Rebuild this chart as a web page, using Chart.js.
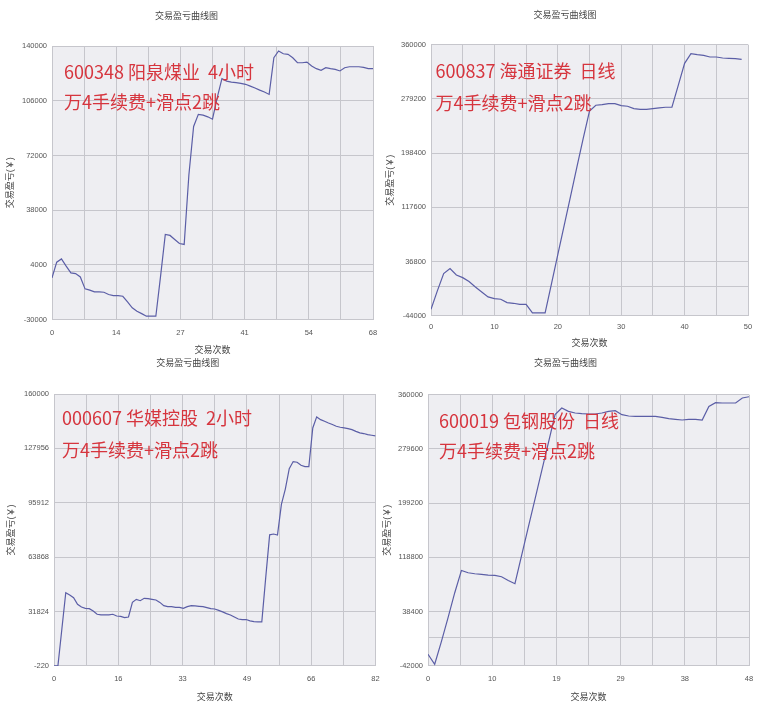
<!DOCTYPE html>
<html><head><meta charset="utf-8">
<script src="https://cdn.jsdelivr.net/npm/chart.js@4.4.0/dist/chart.umd.min.js"></script>
<style>
html,body{margin:0;padding:0;background:#fff;width:764px;height:718px;overflow:hidden;}
canvas{position:absolute;}
</style></head><body>
<canvas id="c1" width="382" height="357" style="left:0;top:0"></canvas>
<canvas id="c2" width="382" height="350" style="left:382px;top:0"></canvas>
<canvas id="c3" width="382" height="348" style="left:0;top:356px"></canvas>
<canvas id="c4" width="382" height="348" style="left:382px;top:356px"></canvas>
<script>
// ---- text ----
const chartTitle = '交易盈亏曲线图';
const xAxisTitle = '交易次数';
const yAxisTitle = '交易盈亏(￥)';

// ---- panel 1: 600348 阳泉煤业 4小时 ----
const note1 = ['600348 阳泉煤业  4小时', '万4手续费+滑点2跳'];
const xTicks1 = [0, 14, 27, 41, 54, 68];
const yTicks1 = [-30000, 4000, 38000, 72000, 106000, 140000];
const pnl1 = [-4100, 5700, 7700, 3200, -1000, -1400, -3500, -10900, -11700, -12800,
  -12800, -13000, -14400, -15100, -15100, -15500, -19000, -22700, -24800, -26300,
  -27900, -27900, -27900, -3000, 22900, 22300, 19800, 17300, 16700, 60000,
  90000, 97500, 97000, 96000, 94500, 107900, 119700, 118200, 117600, 117200,
  116800, 116200, 115100, 113900, 112600, 111400, 109900, 132700, 136900, 135200,
  134800, 132700, 129600, 129600, 130000, 127600, 125900, 124900, 126500, 125900,
  125500, 124500, 126500, 127100, 127100, 127100, 126700, 125900, 125900];

// ---- panel 2: 600837 海通证券 日线 ----
const note2 = ['600837 海通证券  日线', '万4手续费+滑点2跳'];
const xTicks2 = [0, 10, 20, 30, 40, 50];
const yTicks2 = [-44000, 36800, 117600, 198400, 279200, 360000];
const pnl2 = [-34100, -6800, 19000, 26400, 17000, 13000, 7100, -900, -8300, -15700,
  -18200, -19200, -24200, -25200, -26700, -26700, -39500, -39500, -39500, 3600,
  47200, 90300, 133500, 177100, 220200, 261000, 269800, 270800, 272300, 272300,
  269300, 268300, 264800, 263800, 263800, 264800, 265800, 266800, 266800, 299500,
  332200, 346600, 345100, 344100, 341700, 341700, 340200, 339700, 339200, 338200];

// ---- panel 3: 000607 华媒控股 2小时 ----
const note3 = ['000607 华媒控股  2小时', '万4手续费+滑点2跳'];
const xTicks3 = [0, 16, 33, 49, 66, 82];
const yTicks3 = [-220, 31824, 63868, 95912, 127956, 160000];
const pnl3 = [-220, -220, 21400, 42900, 41600, 40000, 36100, 34500, 33700, 33500,
  32100, 30200, 29800, 29800, 29800, 30200, 29200, 29000, 28200, 28600,
  37200, 39000, 38200, 39600, 39400, 39000, 38600, 37200, 35300, 34700,
  34700, 34300, 34300, 33700, 34700, 35300, 35100, 34900, 34700, 34100,
  33500, 33300, 32500, 31600, 30600, 29800, 28600, 27400, 27100, 27100,
  26300, 25900, 25700, 25700, 51800, 77000, 77500, 76900, 95000, 104000,
  116000, 120200, 119800, 118000, 117200, 117200, 140000, 146500, 144900, 143900,
  142900, 142000, 141000, 140400, 140000, 139600, 139000, 138000, 137100, 136700,
  136100, 135700, 135300];

// ---- panel 4: 600019 包钢股份 日线 ----
const note4 = ['600019 包钢股份  日线', '万4手续费+滑点2跳'];
const xTicks4 = [0, 10, 19, 29, 38, 48];
const yTicks4 = [-42000, 38400, 118800, 199200, 279600, 360000];
const pnl4 = [-24800, -39600, -6000, 29500, 66500, 99500, 96100, 94600, 93600, 92600,
  92100, 90200, 84700, 79800, 121700, 163700, 205100, 247000, 288500, 330400,
  340300, 335300, 332900, 331900, 331400, 331400, 332900, 335300, 336300, 330400,
  328400, 327900, 327900, 327900, 327900, 326500, 324500, 323500, 322500, 323500,
  323500, 322500, 342700, 348200, 347700, 347700, 347700, 355100, 357000];

// ---- styling ----
const FONT = "'Liberation Sans','Noto Sans CJK SC',sans-serif";
const GRID = '#c6c6cc';
const LINE = '#5b5ea6';

const plotBg = {
  id: 'plotBg',
  beforeDraw(chart) {
    const {ctx, chartArea: a} = chart;
    ctx.save();
    ctx.fillStyle = '#eeeef2';
    ctx.fillRect(a.left, a.top, a.right - a.left, a.bottom - a.top);
    ctx.restore();
  }
};
const notePlugin = {
  id: 'note',
  afterDatasetsDraw(chart, args, o) {
    const {ctx, chartArea: a} = chart;
    ctx.save();
    ctx.font = '18px "Noto Sans CJK SC", sans-serif';
    ctx.fillStyle = '#d6353e';
    ctx.textBaseline = 'middle';
    ctx.textAlign = 'left';
    o.lines.forEach((t, k) => ctx.fillText(t, a.left + o.dx, a.top + o.dy[k]));
    ctx.restore();
  }
};

function makeChart(id, pnl, xTicks, yTicks, note, L) {
  const xMax = xTicks[xTicks.length - 1];
  const data = pnl.map((v, i) => ({x: i, y: v}));
  new Chart(document.getElementById(id), {
    type: 'line',
    data: { datasets: [{ data, borderColor: LINE, borderWidth: 1.2, pointRadius: 0, tension: 0, fill: false }] },
    plugins: [plotBg, notePlugin],
    options: {
      responsive: false, animation: false, devicePixelRatio: 1,
      layout: { padding: { left: 0, right: L.padR, top: 0, bottom: 0 } },
      plugins: {
        legend: { display: false }, tooltip: { enabled: false },
        title: { display: true, text: chartTitle, color: '#444', font: { size: 9, family: FONT, weight: 'normal' },
                 padding: { top: L.tTop, bottom: L.tBot } },
        note: { lines: note, dx: L.nx, dy: L.ny }
      },
      scales: {
        x: {
          type: 'linear', min: 0, max: xMax,
          afterBuildTicks: s => { s.ticks = Array.from({length: 11}, (_, k) => ({ value: k * xMax / 10 })); },
          afterFit: s => { s.height = L.xH; s.paddingLeft = 0; s.paddingRight = 0; },
          ticks: { autoSkip: false, maxRotation: 0, padding: L.xPad, color: '#555', font: { size: 7.5, family: FONT },
                   callback: (v, i) => (i % 2 === 0 ? String(xTicks[i / 2]) : '') },
          grid: { color: GRID, drawTicks: false }, border: { color: GRID },
          title: { display: true, text: xAxisTitle, color: '#444', font: { size: 9, family: FONT }, padding: { top: 0, bottom: 1 } }
        },
        y: {
          type: 'linear', min: yTicks[0], max: yTicks[yTicks.length - 1],
          afterBuildTicks: s => { s.ticks = yTicks.concat([0]).sort((a, b) => a - b).map(v => ({ value: v })); },
          afterFit: s => { s.width = L.yW; s.paddingTop = 0; s.paddingBottom = 0; },
          ticks: { autoSkip: false, padding: 5, color: '#555', font: { size: 7.5, family: FONT },
                   callback: v => (yTicks.includes(v) ? String(v) : '') },
          grid: { color: GRID, drawTicks: false }, border: { color: GRID },
          title: { display: true, text: yAxisTitle, color: '#444', font: { size: 9, family: FONT }, padding: { top: L.yt, bottom: 0 } }
        }
      }
    }
  });
}

makeChart('c1', pnl1, xTicks1, yTicks1, note1, { padR: 9, tTop: 11, tBot: 24.2, xH: 37.4, yW: 52, xPad: 9, yt: 5.2, nx: 12, ny: [26, 56.5] });
makeChart('c2', pnl2, xTicks2, yTicks2, note2, { padR: 16, tTop: 10, tBot: 23.9, xH: 34.1, yW: 49, xPad: 7, yt: 3.2, nx: 4.5, ny: [26, 58] });
makeChart('c3', pnl3, xTicks3, yTicks3, note3, { padR: 6.5, tTop: 2, tBot: 25.2, xH: 38.1, yW: 54, xPad: 9, yt: 6.5, nx: 8, ny: [24, 56] });
makeChart('c4', pnl4, xTicks4, yTicks4, note4, { padR: 15, tTop: 2, tBot: 25.9, xH: 38.1, yW: 46, xPad: 9, yt: 0.5, nx: 11, ny: [26.3, 56.3] });
</script>
</body></html>
